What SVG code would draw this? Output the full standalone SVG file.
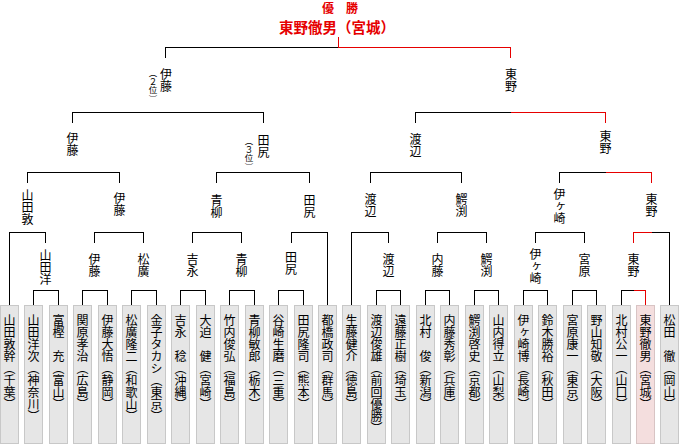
<svg xmlns="http://www.w3.org/2000/svg" width="680" height="445" viewBox="0 0 680 445">
<style>
.ln{stroke:#000;stroke-width:1;fill:none;shape-rendering:crispEdges}
.rd{stroke:#e60000;stroke-width:1;fill:none;shape-rendering:crispEdges}
.box{fill:#e6e6e6;stroke:#c8c8c8;stroke-width:1}
.win{fill:#f4dede;stroke:#d8c4c4;stroke-width:1}
.v{font-family:"Noto Sans CJK JP","Noto Sans CJK SC",sans-serif;font-size:12px;writing-mode:vertical-rl;fill:#000}
.lbl{text-anchor:middle}
.nm{text-anchor:start}
.note{font-size:8.5px;text-anchor:middle}
.ttl{font-family:"Noto Sans CJK JP","Noto Sans CJK SC",sans-serif;font-weight:bold;fill:#e60000;text-anchor:middle}
</style>
<rect width="680" height="445" fill="#fff"/>
<g id="champion">
<text class="ttl" x="340" y="13" font-size="12">優　勝</text>
<text class="ttl" x="337" y="32.5" font-size="14.5">東野徹男（宮城）</text>
</g>
<g id="connectors">
<!-- final -->
<path class="ln" d="M165.5,57.5V47.5H338.5"/>
<path class="rd" d="M338.5,37V47.5H510.5V57.5"/>
<!-- semifinals -->
<path class="ln" d="M72.5,122.5V112.5H263.5V122.5"/>
<path class="ln" d="M415.5,122.5V112.5H510.5"/>
<path class="rd" d="M510.5,112.5H605.5V122.5"/>
<!-- round 3 -->
<path class="ln" d="M27.5,182.5V172.5H119.5V182.5"/>
<path class="ln" d="M216.5,182.5V172.5H309.5V182.5"/>
<path class="ln" d="M370.5,182.5V172.5H461.5V182.5"/>
<path class="ln" d="M559.5,182.5V172.5H605.5"/>
<path class="rd" d="M605.5,172.5H651.5V182.5"/>
<!-- round 2 -->
<path class="ln" d="M9.5,305V232.5H45.5V242.5"/>
<path class="ln" d="M94.5,242.5V232.5H143.5V242.5"/>
<path class="ln" d="M192.5,242.5V232.5H241.5V242.5"/>
<path class="ln" d="M291.5,242.5V232.5H327.5V305"/>
<path class="ln" d="M351.5,305V232.5H388.5V242.5"/>
<path class="ln" d="M437.5,242.5V232.5H486.5V242.5"/>
<path class="ln" d="M535.5,242.5V232.5H584.5V242.5"/>
<path class="rd" d="M633.5,242.5V232.5H651.5"/>
<path class="ln" d="M651.5,232.5H669.5V305"/>
<!-- round 1 -->
<path class="ln" d="M33.5,305V290.5H58.5V305"/>
<path class="ln" d="M82.5,305V290.5H107.5V305"/>
<path class="ln" d="M131.5,305V290.5H156.5V305"/>
<path class="ln" d="M180.5,305V290.5H205.5V305"/>
<path class="ln" d="M229.5,305V290.5H254.5V305"/>
<path class="ln" d="M278.5,305V290.5H303.5V305"/>
<path class="ln" d="M376.5,305V290.5H400.5V305"/>
<path class="ln" d="M425.5,305V290.5H449.5V305"/>
<path class="ln" d="M474.5,305V290.5H498.5V305"/>
<path class="ln" d="M523.5,305V290.5H547.5V305"/>
<path class="ln" d="M572.5,305V290.5H596.5V305"/>
<path class="ln" d="M621.5,305V290.5H633.5"/>
<path class="rd" d="M633.5,290.5H645.5V305"/>
</g>
<!-- final labels -->
<g id="f-ito"><text class="v lbl" x="166" y="80">伊藤</text><text class="v note" x="153" y="86">（２位）</text></g>
<g id="f-higashino"><text class="v lbl" x="511" y="80">東野</text></g>
<!-- semifinal labels -->
<g id="s-ito"><text class="v lbl" x="72.5" y="144">伊藤</text></g>
<g id="s-tajiri"><text class="v lbl" x="263.5" y="146">田尻</text><text class="v note" x="249" y="154">（３位）</text></g>
<g id="s-watanabe"><text class="v lbl" x="415.5" y="145">渡辺</text></g>
<g id="s-higashino"><text class="v lbl" x="605.5" y="142">東野</text></g>
<!-- round 3 labels -->
<g id="q-yamadaatsu"><text class="v lbl" x="27.5" y="207">山田敦</text></g>
<g id="q-ito"><text class="v lbl" x="119.5" y="204">伊藤</text></g>
<g id="q-aoyagi"><text class="v lbl" x="216.5" y="206">青柳</text></g>
<g id="q-tajiri"><text class="v lbl" x="309.5" y="206">田尻</text></g>
<g id="q-watanabe"><text class="v lbl" x="370.5" y="205">渡辺</text></g>
<g id="q-wanibuchi"><text class="v lbl" x="461.5" y="205">鰐渕</text></g>
<g id="q-igasaki"><text class="v lbl" x="559.5" y="206">伊ヶ崎</text></g>
<g id="q-higashino"><text class="v lbl" x="651.5" y="205">東野</text></g>
<!-- round 2 labels -->
<g id="r2-yamadayo"><text class="v lbl" x="45.5" y="267">山田洋</text></g>
<g id="r2-ito"><text class="v lbl" x="94.5" y="265">伊藤</text></g>
<g id="r2-matsuhiro"><text class="v lbl" x="143.5" y="265">松廣</text></g>
<g id="r2-yoshinaga"><text class="v lbl" x="192.5" y="265">吉永</text></g>
<g id="r2-aoyagi"><text class="v lbl" x="241.5" y="265">青柳</text></g>
<g id="r2-tajiri"><text class="v lbl" x="291" y="263">田尻</text></g>
<g id="r2-watanabe"><text class="v lbl" x="388.5" y="265">渡辺</text></g>
<g id="r2-naito"><text class="v lbl" x="437.5" y="265">内藤</text></g>
<g id="r2-wanibuchi"><text class="v lbl" x="486.5" y="265">鰐渕</text></g>
<g id="r2-igasaki"><text class="v lbl" x="535.5" y="266">伊ヶ崎</text></g>
<g id="r2-miyahara"><text class="v lbl" x="584.5" y="265">宮原</text></g>
<g id="r2-higashino"><text class="v lbl" x="633.5" y="265">東野</text></g>
<!-- entrants -->
<g id="e00"><rect class="box" x="0.5" y="305.5" width="18" height="138"/><text class="v nm" x="9.5" y="314">山田敦幹（千葉）</text></g>
<g id="e01"><rect class="box" x="24.5" y="305.5" width="18" height="138"/><text class="v nm" x="33.5" y="314">山田洋次（神奈川）</text></g>
<g id="e02"><rect class="box" x="49.5" y="305.5" width="18" height="138"/><text class="v nm" x="58.5" y="314">富樫　充（富山）</text></g>
<g id="e03"><rect class="box" x="73.5" y="305.5" width="18" height="138"/><text class="v nm" x="82.5" y="314">関原孝治（広島）</text></g>
<g id="e04"><rect class="box" x="98.5" y="305.5" width="18" height="138"/><text class="v nm" x="107.5" y="314">伊藤大悟（静岡）</text></g>
<g id="e05"><rect class="box" x="122.5" y="305.5" width="18" height="138"/><text class="v nm" x="131.5" y="314">松廣隆二（和歌山）</text></g>
<g id="e06"><rect class="box" x="147.5" y="305.5" width="18" height="138"/><text class="v nm" x="156.5" y="314">金子タカシ（東京）</text></g>
<g id="e07"><rect class="box" x="171.5" y="305.5" width="18" height="138"/><text class="v nm" x="180.5" y="314">吉永　稔（沖縄）</text></g>
<g id="e08"><rect class="box" x="196.5" y="305.5" width="18" height="138"/><text class="v nm" x="205.5" y="314">大迫　健（宮崎）</text></g>
<g id="e09"><rect class="box" x="220.5" y="305.5" width="18" height="138"/><text class="v nm" x="229.5" y="314">竹内俊弘（福島）</text></g>
<g id="e10"><rect class="box" x="245.5" y="305.5" width="18" height="138"/><text class="v nm" x="254.5" y="314">青柳敏郎（栃木）</text></g>
<g id="e11"><rect class="box" x="269.5" y="305.5" width="18" height="138"/><text class="v nm" x="278.5" y="314">谷崎生磨（三重）</text></g>
<g id="e12"><rect class="box" x="294.5" y="305.5" width="18" height="138"/><text class="v nm" x="303.5" y="314">田尻隆司（熊本）</text></g>
<g id="e13"><rect class="box" x="318.5" y="305.5" width="18" height="138"/><text class="v nm" x="327.5" y="314">都橋政司（群馬）</text></g>
<g id="e14"><rect class="box" x="342.5" y="305.5" width="18" height="138"/><text class="v nm" x="351.5" y="314">生藤健介（徳島）</text></g>
<g id="e15"><rect class="box" x="367.5" y="305.5" width="18" height="138"/><text class="v nm" x="376.5" y="314">渡辺俊雄（前回優勝）</text></g>
<g id="e16"><rect class="box" x="391.5" y="305.5" width="18" height="138"/><text class="v nm" x="400.5" y="314">遠藤正樹（埼玉）</text></g>
<g id="e17"><rect class="box" x="416.5" y="305.5" width="18" height="138"/><text class="v nm" x="425.5" y="314">北村　俊（新潟）</text></g>
<g id="e18"><rect class="box" x="440.5" y="305.5" width="18" height="138"/><text class="v nm" x="449.5" y="314">内藤秀彰（兵庫）</text></g>
<g id="e19"><rect class="box" x="465.5" y="305.5" width="18" height="138"/><text class="v nm" x="474.5" y="314">鰐渕啓史（京都）</text></g>
<g id="e20"><rect class="box" x="489.5" y="305.5" width="18" height="138"/><text class="v nm" x="498.5" y="314">山内得立（山梨）</text></g>
<g id="e21"><rect class="box" x="514.5" y="305.5" width="18" height="138"/><text class="v nm" x="523.5" y="314">伊ヶ崎博（長崎）</text></g>
<g id="e22"><rect class="box" x="538.5" y="305.5" width="18" height="138"/><text class="v nm" x="547.5" y="314">鈴木勝裕（秋田）</text></g>
<g id="e23"><rect class="box" x="563.5" y="305.5" width="18" height="138"/><text class="v nm" x="572.5" y="314">宮原康一（東京）</text></g>
<g id="e24"><rect class="box" x="587.5" y="305.5" width="18" height="138"/><text class="v nm" x="596.5" y="314">野山知敬（大阪）</text></g>
<g id="e25"><rect class="box" x="612.5" y="305.5" width="18" height="138"/><text class="v nm" x="621.5" y="314">北村公一（山口）</text></g>
<g id="e26"><rect class="win" x="636.5" y="305.5" width="18" height="138"/><text class="v nm" x="645.5" y="314">東野徹男（宮城）</text></g>
<g id="e27"><rect class="box" x="660.5" y="305.5" width="18" height="138"/><text class="v nm" x="669.5" y="314">松田　徹（岡山）</text></g>
</svg>
